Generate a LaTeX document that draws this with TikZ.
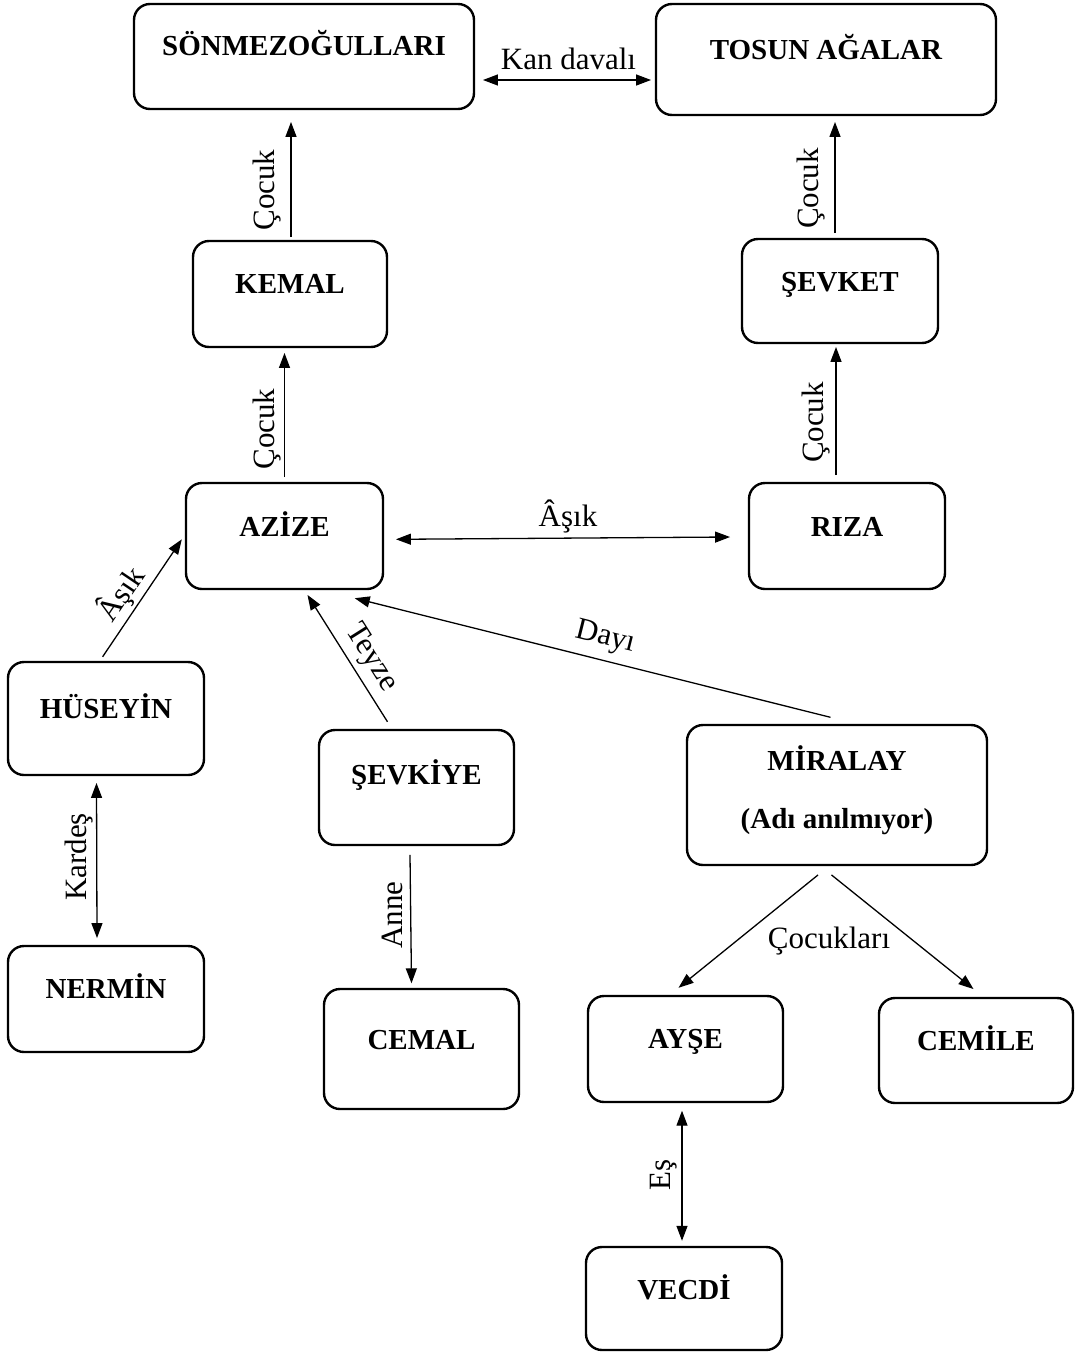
\documentclass[tikz,border=0pt]{standalone}
\usepackage{fontspec}
\setmainfont{Liberation Serif}
\usetikzlibrary{arrows.meta,calc}
\begin{document}
\begin{tikzpicture}[x=1pt,y=-1pt,
  box/.style 2 args={draw, line width=2.4pt, rounded corners=16pt, inner sep=0pt, minimum width=#1, minimum height=#2},
  bname/.style={font=\fontsize{29}{35}\selectfont\bfseries, anchor=base, inner sep=0pt},
  lbl/.style={font=\fontsize{31}{37}\selectfont, inner sep=0pt},
  arr/.style={line width=1.3pt, -{Triangle[length=15pt,width=11pt]}},
  darr/.style={line width=1.3pt, {Triangle[length=15pt,width=11pt]}-{Triangle[length=15pt,width=11pt]}}
]
\fill[white] (0,0) rectangle (1075,1352);
\useasboundingbox (0,0) rectangle (1075,1352);

% boxes
\node[box={340pt}{105pt}] (sonmez) at (304,56.5) {};
\node[box={340pt}{111pt}] (tosun) at (826,59.5) {};
\node[box={194pt}{106pt}] (kemal) at (290,294) {};
\node[box={196pt}{104pt}] (sevket) at (840,291) {};
\node[box={197pt}{106pt}] (azize) at (284.5,536) {};
\node[box={196pt}{106pt}] (riza) at (847,536) {};
\node[box={196pt}{113pt}] (huseyin) at (106,718.5) {};
\node[box={195pt}{115pt}] (sevkiye) at (416.5,787.5) {};
\node[box={300pt}{140pt}] (miralay) at (837,795) {};
\node[box={196pt}{106pt}] (nermin) at (106,999) {};
\node[box={195pt}{120pt}] (cemal) at (421.5,1049) {};
\node[box={195pt}{106pt}] (ayse) at (685.5,1049) {};
\node[box={194pt}{105pt}] (cemile) at (976,1050.5) {};
\node[box={196pt}{103pt}] (vecdi) at (684,1298.5) {};

% box texts
\node[bname] (tsonmez) at (304,55) {SÖNMEZOĞULLARI};
\node[bname] (ttosun) at (826,59) {TOSUN AĞALAR};
\node[bname] (tkemal) at (290,293) {KEMAL};
\node[bname] (tsevket) at (840,291) {ŞEVKET};
\node[bname] (tazize) at (284.5,536) {AZİZE};
\node[bname] (triza) at (847,536) {RIZA};
\node[bname] (thuseyin) at (106,718) {HÜSEYİN};
\node[bname] (tsevkiye) at (416.5,784) {ŞEVKİYE};
\node[bname] (tmiralay) at (837,770) {MİRALAY};
\node[bname] (tmiralay2) at (837,828) {(Adı anılmıyor)};
\node[bname] (tnermin) at (106,998) {NERMİN};
\node[bname] (tcemal) at (421.5,1049) {CEMAL};
\node[bname] (tayse) at (685.5,1048) {AYŞE};
\node[bname] (tcemile) at (976,1050) {CEMİLE};
\node[bname] (tvecdi) at (684,1299) {VECDİ};

% connectors
\draw[darr] ($(sonmez.east)+(7.75,23.5)$) -- ($(tosun.west)+(-3.75,20.5)$);
\draw[arr] ($(kemal.north)+(1,-2.75)$) -- ($(sonmez.south)+(-13,11.75)$);
\draw[arr] ($(azize.north)+(0,-4.75)$) -- ($(kemal.south)+(-5.5,4.75)$);
\draw[arr] ($(sevket.north)+(-5,-4.75)$) -- ($(tosun.south)+(9,5.75)$);
\draw[arr] ($(riza.north)+(-11,-6.75)$) -- ($(sevket.south)+(-4,2.75)$);
\draw[darr] ($(azize.east)+(11.75,3.3)$) -- ($(riza.west)+(-17.75,1)$);
\draw[arr] ($(huseyin.north)+(-3.4,-4)$) -- ($(azize.west)+(-3,3.3)$);
\draw[arr] ($(sevkiye.north)+(-29,-7)$) -- ($(azize.south)+(23,4.75)$);
\draw[arr] ($(miralay.north)+(-6.5,-6.5)$) -- ($(azize.south east)+(-29.5,8)$);
\draw[darr] ($(huseyin.south)+(-9.5,6.75)$) -- ($(nermin.north)+(-9,-6.75)$);
\draw[arr] ($(sevkiye.south)+(-6.5,8.75)$) -- ($(cemal.north)+(-10,-4.5)$);
\draw[arr] ($(miralay.south)+(-19,8.75)$) -- ($(ayse.north)+(-7,-7)$);
\draw[arr] ($(miralay.south)+(-5.5,8.75)$) -- ($(cemile.north)+(-2.5,-7.75)$);
\draw[darr] ($(ayse.south)+(-3.5,7.5)$) -- ($(vecdi.north)+(-2,-5)$);

% connector labels
\node[lbl, anchor=base] (lkan) at (568.5,69) {Kan davalı};
\node[lbl, rotate=90] (lcoc1) at (267.5,190) {Çocuk};
\node[lbl, rotate=90] (lcoc2) at (267.5,429) {Çocuk};
\node[lbl, rotate=90] (lcoc3) at (811,188.5) {Çocuk};
\node[lbl, rotate=90] (lcoc4) at (816,422.5) {Çocuk};
\node[lbl, anchor=base] (lasik) at (568,526) {Âşık};
\node[lbl, rotate=56] (lasik2) at (121,594) {Âşık};
\node[lbl, rotate=-57.8] (lteyze) at (371,658) {Teyze};
\node[lbl, rotate=-14] (ldayi) at (605.6,638) {Dayı};
\node[lbl, rotate=90] (lkardes) at (79,857) {Kardeş};
\node[lbl, rotate=90] (lanne) at (392,915) {Anne};
\node[lbl, anchor=base] (lcocuklari) at (829,948) {Çocukları};
\node[lbl, rotate=90] (les) at (664,1175) {Eş};
\end{tikzpicture}
\end{document}
